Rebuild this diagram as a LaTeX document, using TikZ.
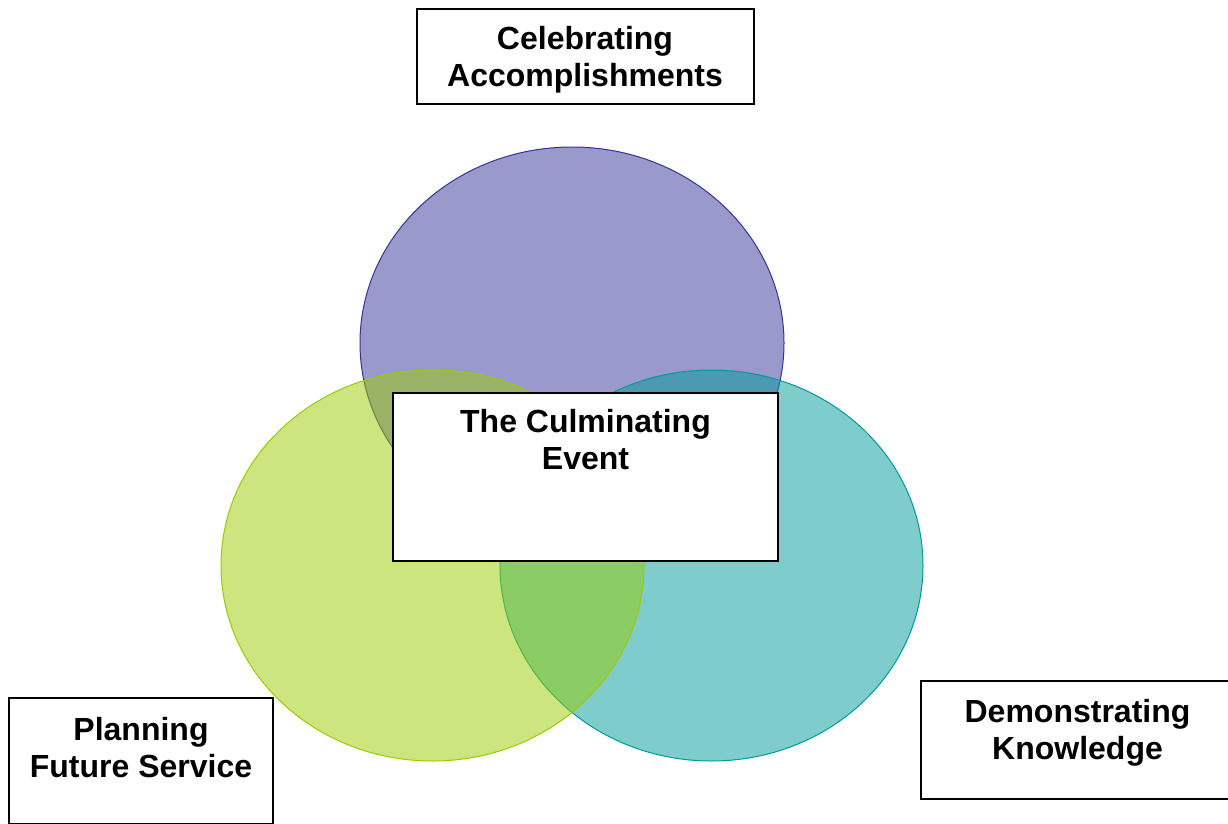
\documentclass[tikz,border=0pt]{standalone}
\usepackage{fontspec}
\setmainfont{Liberation Sans}
\usetikzlibrary{shapes.geometric}
\definecolor{vpurple}{HTML}{333399}
\definecolor{vgreen}{HTML}{99CC00}
\definecolor{vteal}{HTML}{009999}
\tikzset{
  venn/.style={ellipse, inner sep=0pt, fill opacity=0.5, draw opacity=1, line width=1pt},
  labelbox/.style={rectangle, draw=black, fill=white, line width=2pt, inner sep=0pt, anchor=north west},
  labeltext/.style={align=center, inner sep=0pt, anchor=north, font=\bfseries\fontsize{32}{37.5}\selectfont},
}
\begin{document}
\begin{tikzpicture}[x=1pt,y=-1pt]
\useasboundingbox (0,0) rectangle (1228,824);
% Venn ellipses (order: purple, teal, green)
\node[venn, fill=vpurple, draw=vpurple, minimum width=424pt, minimum height=392pt] (purple) at (572,343) {};
\node[venn, fill=vteal, draw=vteal, minimum width=423pt, minimum height=391pt] (teal) at (711.5,565.5) {};
\node[venn, fill=vgreen, draw=vgreen, minimum width=423pt, minimum height=391pt] (green) at (432.5,565.5) {};
% boxes
\node[labelbox, minimum width=337pt, minimum height=95pt] (topbox) at (415.5,8) {};
\node[labelbox, minimum width=385pt, minimum height=168pt] (centerbox) at (392,392) {};
\node[labelbox, minimum width=264pt, minimum height=126pt] (leftbox) at (8,697) {};
\node[labelbox, minimum width=314pt, minimum height=118pt] (rightbox) at (919.5,680) {};
% texts
\node[labeltext] (toptext) at ([yshift=-18pt]topbox.north) {Celebrating\\Accomplishments};
\node[labeltext] (centertext) at ([yshift=-17pt]centerbox.north) {The Culminating\\Event};
\node[labeltext] (lefttext) at ([yshift=-20pt]leftbox.north) {Planning\\Future Service};
\node[labeltext] (righttext) at ([yshift=-19pt]rightbox.north) {Demonstrating\\Knowledge};
\end{tikzpicture}
\end{document}
